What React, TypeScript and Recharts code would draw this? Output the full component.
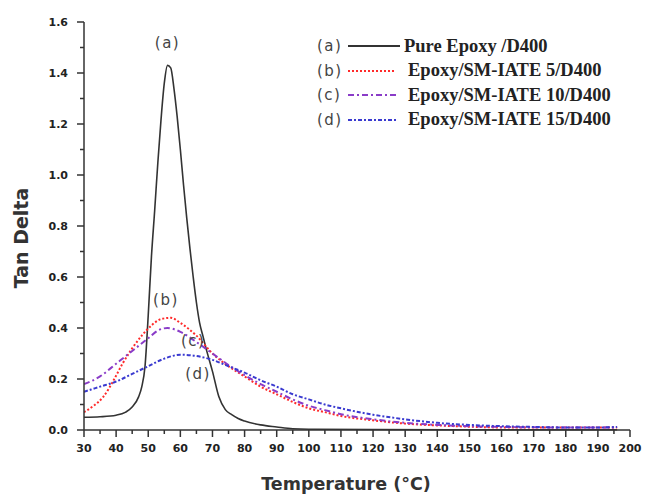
import React from "react";
import {
    LineChart,
    Line,
    XAxis,
    YAxis,
    ReferenceDot,
} from "recharts";

// Pure Epoxy/D400 (a)
const tempA = [30, 35, 40, 43, 45, 47, 48, 49, 50, 51, 52, 53, 54, 55, 56, 57, 58, 59, 60, 61, 62, 63, 64, 65, 66, 67, 68, 70, 72, 74, 76, 78, 80, 85, 90, 95, 100, 120, 150, 196];
const tanA = [0.05, 0.052, 0.058, 0.07, 0.09, 0.13, 0.17, 0.25, 0.45, 0.68, 0.86, 1.05, 1.22, 1.36, 1.43, 1.42, 1.34, 1.23, 1.1, 0.96, 0.83, 0.71, 0.6, 0.5, 0.42, 0.37, 0.32, 0.23, 0.13, 0.08, 0.06, 0.045, 0.035, 0.02, 0.012, 0.005, 0.003, 0.002, 0.001, 0.001];

// Epoxy/SM-IATE 5/D400 (b)
const tempB = [30, 33, 36, 39, 42, 45, 48, 51, 54, 57, 60, 65, 70, 75, 80, 85, 90, 95, 100, 105, 110, 120, 130, 140, 150, 160, 170, 180, 190, 196];
const tanB = [0.07, 0.095, 0.13, 0.19, 0.26, 0.32, 0.37, 0.41, 0.435, 0.44, 0.42, 0.37, 0.3, 0.25, 0.21, 0.17, 0.14, 0.11, 0.085, 0.07, 0.055, 0.038, 0.025, 0.018, 0.013, 0.01, 0.01, 0.01, 0.01, 0.01];

// Epoxy/SM-IATE 10/D400 (c)
const tempC = [30, 35, 40, 45, 50, 53, 56, 60, 65, 70, 75, 80, 85, 90, 95, 100, 105, 110, 120, 130, 140, 150, 160, 180, 196];
const tanC = [0.18, 0.21, 0.26, 0.31, 0.36, 0.39, 0.4, 0.385, 0.345, 0.3, 0.255, 0.215, 0.18, 0.15, 0.12, 0.095, 0.078, 0.062, 0.042, 0.028, 0.02, 0.015, 0.012, 0.01, 0.01];

// Epoxy/SM-IATE 15/D400 (d)
const tempD = [30, 35, 40, 45, 50, 55, 60, 65, 70, 75, 80, 85, 90, 95, 100, 105, 110, 120, 130, 140, 150, 160, 170, 180, 190, 196];
const tanD = [0.15, 0.17, 0.19, 0.22, 0.25, 0.28, 0.295, 0.29, 0.275, 0.25, 0.225, 0.195, 0.17, 0.14, 0.12, 0.1, 0.085, 0.06, 0.042, 0.028, 0.02, 0.015, 0.012, 0.01, 0.01, 0.012];

const xTicks = [30, 35, 40, 45, 50, 55, 60, 65, 70, 75, 80, 85, 90, 95, 100, 105, 110, 115, 120, 125, 130, 135, 140, 145, 150, 155, 160, 165, 170, 175, 180, 185, 190, 195, 200];
const yTicks = [0, 0.1, 0.2, 0.3, 0.4, 0.5, 0.6, 0.7, 0.8, 0.9, 1.0, 1.1, 1.2, 1.3, 1.4, 1.5, 1.6];

const seriesNames = [
    "Pure Epoxy /D400",
    "Epoxy/SM-IATE 5/D400",
    "Epoxy/SM-IATE 10/D400",
    "Epoxy/SM-IATE 15/D400",
];
const seriesTags = ["(a)", "(b)", "(c)", "(d)"];
const colors = ["#333333", "#ff2a2a", "#8a3cc8", "#3a3ad0"];
const dashes = ["", "2 2", "6 3 2 3", "4 2 2 2"];

const toRows = (temps: number[], vals: number[]) =>
    temps.map((t, i) => ({ t, v: vals[i] }));

const seriesData = [
    toRows(tempA, tanA),
    toRows(tempB, tanB),
    toRows(tempC, tanC),
    toRows(tempD, tanD),
];

const tickFont = "'DejaVu Sans', sans-serif";

const XTick = (props: any) => {
    const { x, y, payload } = props;
    const major = payload.value % 10 === 0;
    return (
        <g>
            <line x1={x} y1={y} x2={x} y2={y + (major ? 7 : 4)} stroke="#333" strokeWidth={1.5} />
            {major && (
                <text x={x} y={y + 22} textAnchor="middle" fontSize={11} fontWeight="bold" fill="#222" fontFamily={tickFont}>
                    {payload.value}
                </text>
            )}
        </g>
    );
};

const YTick = (props: any) => {
    const { x, y, payload } = props;
    const major = Math.round(payload.value * 10) % 2 === 0;
    return (
        <g>
            <line x1={x} y1={y} x2={x - (major ? 7 : 4)} y2={y} stroke="#333" strokeWidth={1.5} />
            {major && (
                <text x={x - 16} y={y + 4} textAnchor="end" fontSize={11} fontWeight="bold" fill="#222" fontFamily={tickFont}>
                    {payload.value.toFixed(1)}
                </text>
            )}
        </g>
    );
};

const tagLabel = (text: string) => (props: any) => {
    const { viewBox } = props;
    return (
        <text x={viewBox.x} y={viewBox.y} textAnchor="middle" fontSize={15} letterSpacing={1.5} fill="#444" fontFamily="'DejaVu Sans', sans-serif">
            {text}
        </text>
    );
};

const tagPos = [
    { x: 56, y: 1.5 },
    { x: 55.5, y: 0.49 },
    { x: 64, y: 0.33 },
    { x: 65.5, y: 0.2 },
];

export default function App() {
    return (
        <div style={{ position: "absolute", left: 0, top: 0, width: 646, height: 497, background: "#fff" }}>
            <LineChart
                width={646}
                height={497}
                margin={{ top: 22, right: 16, left: 24, bottom: 22 }}
            >
                <XAxis
                    type="number"
                    dataKey="t"
                    domain={[30, 200]}
                    ticks={xTicks}
                    interval={0}
                    tick={<XTick />}
                    tickLine={false}
                    tickSize={0}
                    tickMargin={0}
                    height={45}
                    axisLine={{ stroke: "#333", strokeWidth: 1.5 }}
                    allowDataOverflow
                />
                <YAxis
                    type="number"
                    domain={[0, 1.6]}
                    ticks={yTicks}
                    interval={0}
                    tick={<YTick />}
                    tickLine={false}
                    tickSize={0}
                    tickMargin={0}
                    width={60}
                    axisLine={{ stroke: "#333", strokeWidth: 1.5 }}
                />
                {seriesData.map((d, i) => (
                    <Line
                        key={seriesNames[i]}
                        data={d}
                        dataKey="v"
                        type="monotone"
                        stroke={colors[i]}
                        strokeWidth={i === 0 ? 1.6 : 2}
                        strokeDasharray={dashes[i] || undefined}
                        dot={false}
                        isAnimationActive={false}
                    />
                ))}
                {tagPos.map((p, i) => (
                    <ReferenceDot
                        key={seriesTags[i]}
                        x={p.x}
                        y={p.y}
                        r={0}
                        stroke="none"
                        fill="none"
                        label={tagLabel(seriesTags[i])}
                    />
                ))}
            </LineChart>

            {/* legend */}
            <div style={{ position: "absolute", left: 317, top: 34, fontFamily: "'Liberation Serif', serif", fontWeight: "bold", fontSize: 18.5, color: "#222" }}>
                {seriesNames.map((name, i) => (
                    <div key={name} style={{ height: 24.5, display: "flex", alignItems: "center", whiteSpace: "nowrap" }}>
                        <span style={{ fontFamily: "'DejaVu Sans', sans-serif", fontWeight: "normal", fontSize: 15, letterSpacing: 1.5, color: "#444", width: 30 }}>
                            {seriesTags[i]}
                        </span>
                        <svg width={i === 0 ? 54 : 50} height={10} style={{ marginRight: i === 0 ? 3 : 11 }}>
                            <line x1={1} y1={5} x2={i === 0 ? 53 : 49} y2={5} stroke={colors[i]} strokeWidth={2} strokeDasharray={dashes[i] || undefined} />
                        </svg>
                        <span>{name}</span>
                    </div>
                ))}
            </div>

            {/* axis titles */}
            <div style={{ position: "absolute", left: 0, top: 474, width: 692, textAlign: "center", fontFamily: "'DejaVu Sans', sans-serif", fontWeight: "bold", fontSize: 17.5, color: "#333" }}>
                Temperature (°C)
            </div>
            <div style={{ position: "absolute", left: 21, top: 239, width: 0, height: 0 }}>
                <div style={{ position: "absolute", left: -70, top: -12, width: 140, textAlign: "center", transform: "rotate(-90deg)", fontFamily: "'DejaVu Sans', sans-serif", fontWeight: "bold", fontSize: 19, color: "#333", whiteSpace: "nowrap" }}>
                    Tan Delta
                </div>
            </div>
        </div>
    );
}
